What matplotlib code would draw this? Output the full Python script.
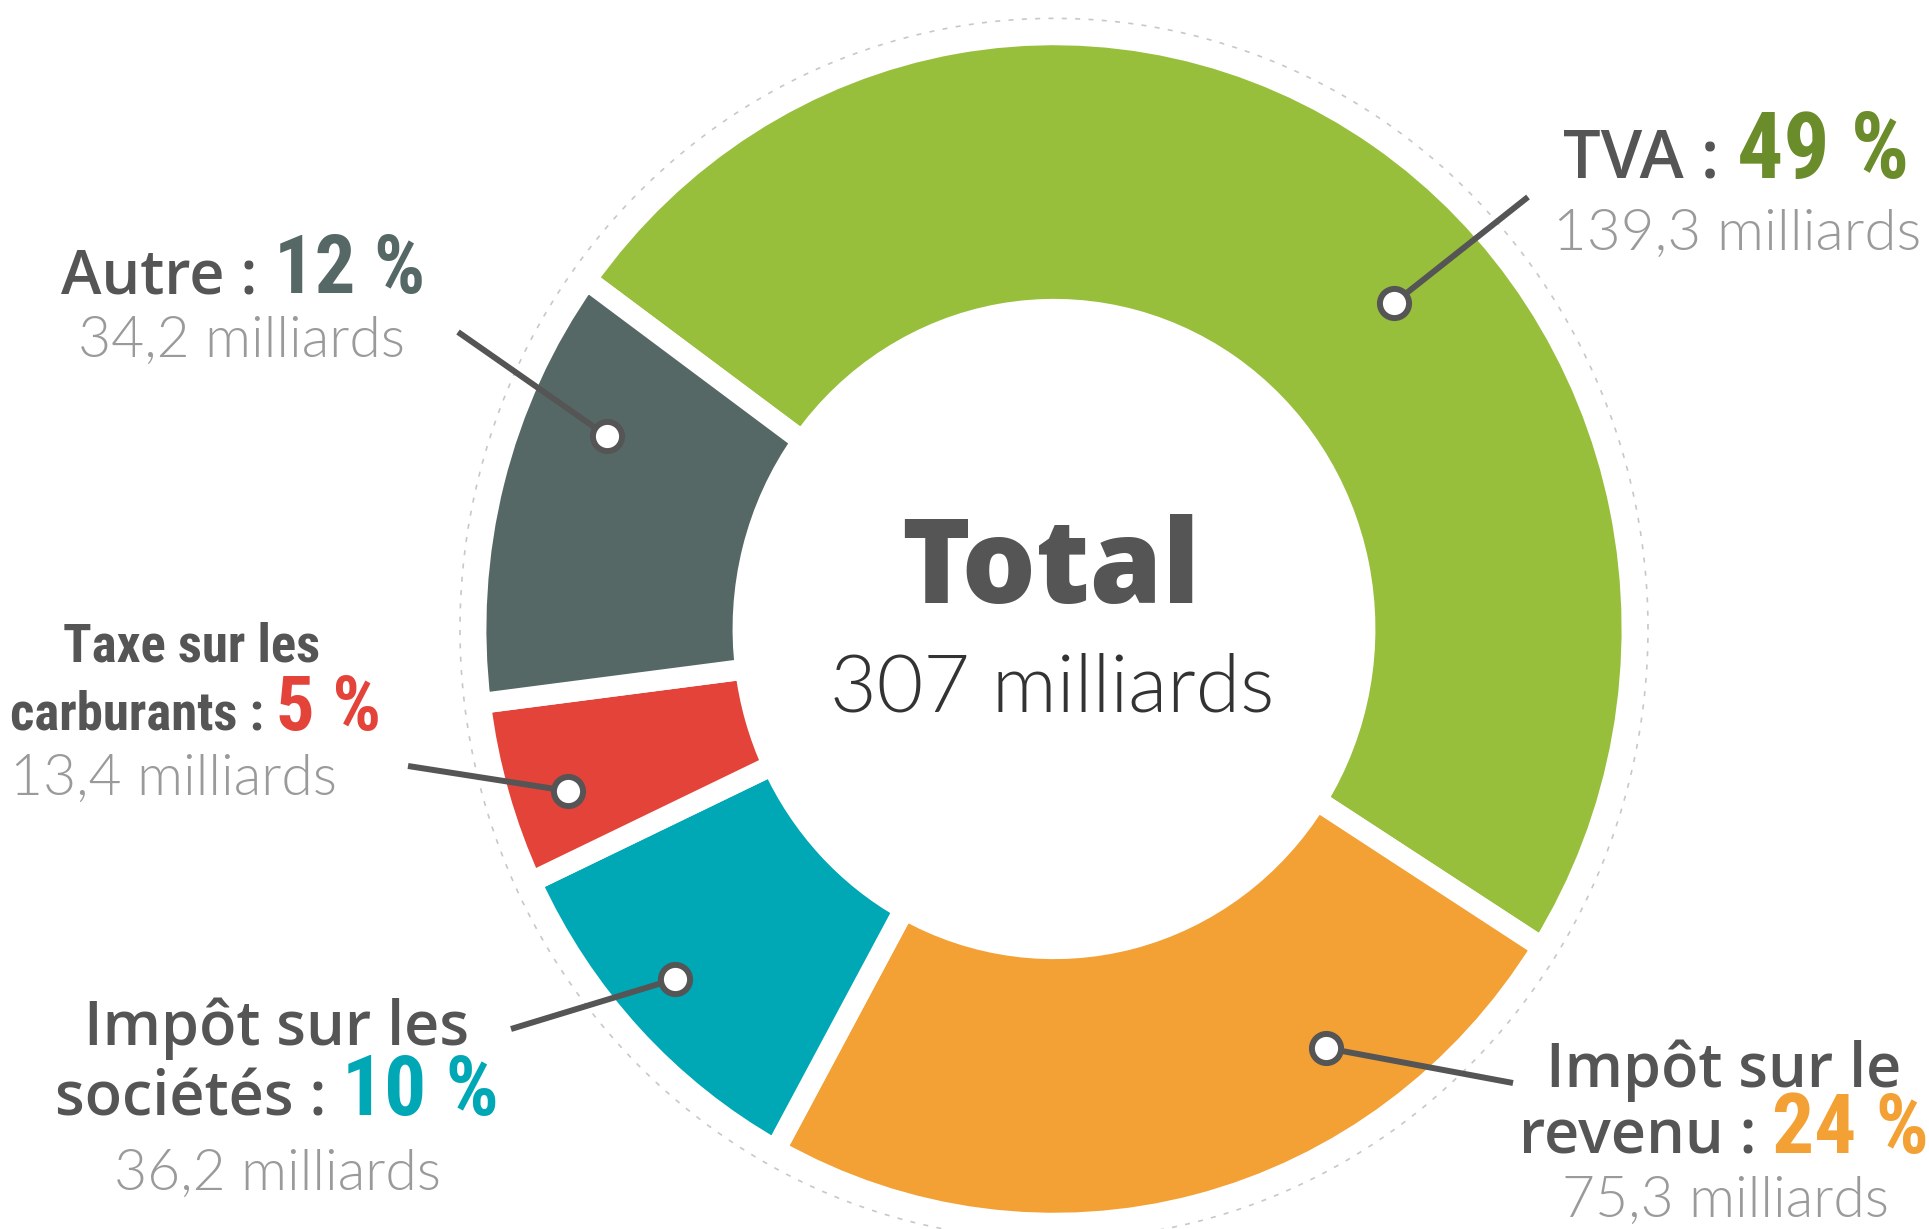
import matplotlib
matplotlib.use("Agg")
import numpy as np
import matplotlib.pyplot as plt
from matplotlib import font_manager

# Data
categories = ["TVA", "Impôt sur le revenu", "Impôt sur les sociétés", "Taxe sur les carburants", "Autre"]
shares = [49, 24, 10, 5, 12]
amounts = ["139,3", "75,3", "36,2", "13,4", "34,2"]
total = "307"
colors = ["#97bf3c", "#f3a135", "#00a7b5", "#e4433a", "#566866"]
pct_colors = ["#6a8c2a", "#f3a135", "#00a7b5", "#e4433a", "#566866"]

W, H = 1929, 1229
K = 1.028  # the original graphic is slightly stretched vertically
installed = {f.name for f in font_manager.fontManager.ttflist}

def pick(*names):
    for n in names:
        if n in installed:
            return n
    return "DejaVu Sans"

SANS = pick("Open Sans", "Lato", "Noto Sans")
LIGHT = pick("Lato", "Open Sans", "Noto Sans")
NARROW = pick("Liberation Sans Narrow", "Roboto Condensed", "DejaVu Sans")

fig = plt.figure(figsize=(W / 100, H / 100), dpi=100)
ax = fig.add_axes([0, 0, 1, 1])


def Y(y):
    # pixel row (from top) -> data y
    return (H - y) / K


cx, cy = 1054, Y(629)
r_out, r_in = 578, 311

ax.pie(shares, colors=colors, startangle=144, counterclock=False,
       center=(cx, cy), radius=r_out, labeldistance=None,
       wedgeprops=dict(width=r_out - r_in, edgecolor="white", linewidth=15))

# faint dashed ring around the donut
t = np.linspace(0, 2 * np.pi, 400)
ax.plot(cx + 594 * np.cos(t), cy + 594 * np.sin(t), color="#c8c8c8",
        lw=1.2, ls=(0, (3, 5)), zorder=0)

ax.set_xlim(0, W)
ax.set_ylim(0, H / K)
ax.set_aspect("auto")
ax.axis("off")

renderer = fig.canvas.get_renderer()


def line(xc, y, parts):
    # draw a line of text made of several pieces, centred on xc
    texts = [ax.text(0, Y(y), s, ha="left", va="baseline", **kw) for s, kw in parts]
    widths = [tx.get_window_extent(renderer).width for tx in texts]
    x = xc - sum(widths) / 2
    for tx, w in zip(texts, widths):
        tx.set_x(x)
        x += w


GREY = "#555555"
AMT = "#9a9a9a"


def lab(size, cond=False):
    if cond:
        return dict(fontsize=size, color=GREY, family=NARROW, weight="bold")
    return dict(fontsize=size, color=GREY, family=SANS, weight="semibold")


def pct(size, i):
    return dict(fontsize=size, color=pct_colors[i], family=NARROW, weight="bold")


def amt(size=40):
    return dict(fontsize=size, color=AMT, family=LIGHT, weight=300)


# TVA
line(1736, 178, [("TVA : ", lab(48)), (f"{shares[0]} %", pct(66, 0))])
line(1737, 250, [(f"{amounts[0]} milliards", amt(42))])
# Autre
line(243, 293, [("Autre : ", lab(44)), (f"{shares[4]} %", pct(58, 4))])
line(242, 357, [(f"{amounts[4]} milliards", amt(41))])
# Taxe sur les carburants
line(192, 662, [("Taxe sur les", lab(38, True))])
line(196, 730, [("carburants : ", lab(38, True)), (f"{shares[3]} %", pct(55, 3))])
line(174, 795, [(f"{amounts[3]} milliards", amt(41))])
# Impôt sur les sociétés
line(277, 1045, [("Impôt sur les", lab(44))])
line(277, 1115, [("sociétés : ", lab(44)), (f"{shares[2]} %", pct(60, 2))])
line(277, 1190, [(f"{amounts[2]} milliards", amt(41))])
# Impôt sur le revenu
line(1724, 1087, [("Impôt sur le", lab(44))])
line(1724, 1153, [("revenu : ", lab(44)), (f"{shares[1]} %", pct(60, 1))])
line(1726, 1217, [(f"{amounts[1]} milliards", amt(41))])

# Total in the centre
line(1051, 603, [("Total", dict(fontsize=84, color="#555555", family=SANS, weight="heavy"))])
line(1052, 712, [(f"{total} milliards", dict(fontsize=58, color="#333333", family=LIGHT, weight=300))])

# leader lines with ring markers: marker pixel position -> outer end pixel position
leaders = [
    (1394, 303, 1528, 197),
    (1326, 1048, 1513, 1083),
    (675, 979, 511, 1029),
    (568, 791, 408, 766),
    (607, 436, 458, 332),
]
for mx, my, ex, ey in leaders:
    ax.plot([mx, ex], [Y(my), Y(ey)], color=GREY, lw=4.3, solid_capstyle="butt", zorder=3)
    ax.plot(mx, Y(my), "o", ms=21, mfc="white", mec=GREY, mew=4.3, zorder=4)

fig.savefig("out.png", dpi=100)
